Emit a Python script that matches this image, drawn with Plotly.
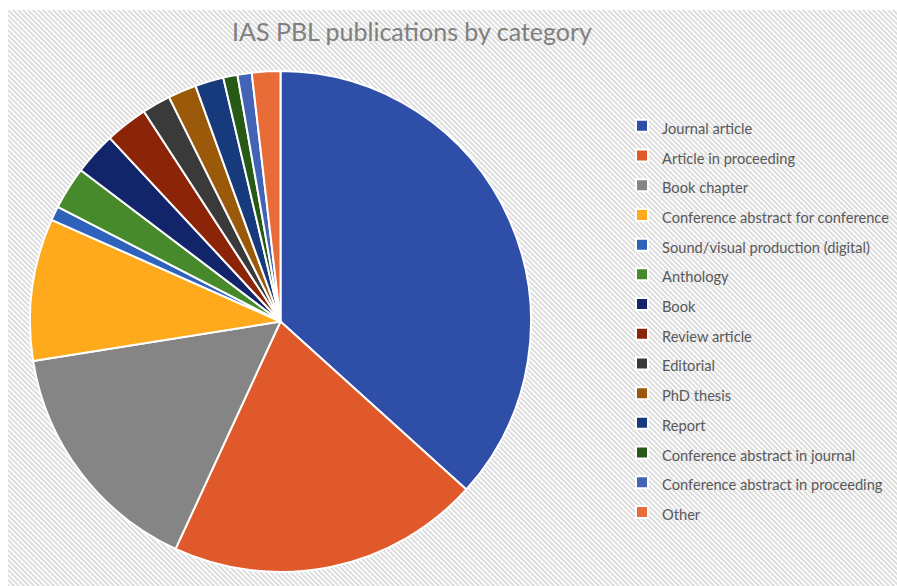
import base64
import plotly.graph_objects as go

# ---- data ----
categories = [
    "Journal article",
    "Article in proceeding",
    "Book chapter",
    "Conference abstract for conference",
    "Sound/visual production (digital)",
    "Anthology",
    "Book",
    "Review article",
    "Editorial",
    "PhD thesis",
    "Report",
    "Conference abstract in journal",
    "Conference abstract in proceeding",
    "Other",
]
counts = [40, 22, 17, 10, 1, 3, 3, 3, 2, 2, 2, 1, 1, 2]
colors = [
    "#2f4ea8", "#e0592a", "#858585", "#ffa91c", "#2f63bb", "#478a2c",
    "#13256a", "#8c2508", "#3a3a3a", "#9a5a0a", "#163a7c", "#275a16",
    "#4263b6", "#e76c38",
]
title_text = "IAS PBL publications by category"

W, H = 897, 586


def px(x):
    return x / W


def py(y):
    return 1 - y / H


# hatched background (Excel-style pattern fill)
bx0, by0 = 8, 10
bw_, bh_ = W - bx0, H - by0
P = 5
svg = f'''<svg xmlns="http://www.w3.org/2000/svg" width="{bw_}" height="{bh_}">
<defs><pattern id="p" width="{P}" height="{P}" patternUnits="userSpaceOnUse">
<rect width="{P}" height="{P}" fill="#ffffff"/>
<path d="M{-P},{-P} L{2*P},{2*P} M{-P},0 L{P},{2*P} M0,{-P} L{2*P},{P}" stroke="#dcdcdc" stroke-width="1.9"/>
</pattern></defs>
<rect width="{bw_}" height="{bh_}" fill="url(#p)"/></svg>'''
src = "data:image/svg+xml;base64," + base64.b64encode(svg.encode()).decode()

legend_labels = [f'<span style="font-size:14.67px">{c}</span>' for c in categories]

fig = go.Figure(
    go.Pie(
        labels=legend_labels,
        values=counts,
        sort=False,
        direction="clockwise",
        rotation=0,
        textinfo="none",
        marker=dict(colors=colors, line=dict(color="white", width=2)),
        domain=dict(x=[px(30), px(531)], y=[py(572), py(71)]),
        hoverinfo="percent+value",
    )
)

fig.update_layout(
    width=W,
    height=H,
    margin=dict(l=0, r=0, t=0, b=0),
    paper_bgcolor="white",
    plot_bgcolor="white",
    font=dict(family="Lato", color="#595959"),
    title=dict(
        text=title_text,
        x=px(412),
        xanchor="center",
        y=py(32),
        yanchor="middle",
        font=dict(family="Lato", size=25, color="#808080"),
    ),
    legend=dict(
        x=px(622),
        xanchor="left",
        y=py(106),
        yanchor="top",
        bgcolor="rgba(0,0,0,0)",
        font=dict(family="Lato", size=20.54, color="#595959"),
    ),
    images=[
        dict(
            source=src,
            xref="paper",
            yref="paper",
            x=px(bx0),
            y=py(by0),
            sizex=bw_ / W,
            sizey=bh_ / H,
            xanchor="left",
            yanchor="top",
            sizing="stretch",
            layer="below",
        )
    ],
)

fig.write_html(
    "out.html",
    config={"displayModeBar": False},
    post_script="document.body.style.margin='0';document.body.style.overflow='hidden';",
)
